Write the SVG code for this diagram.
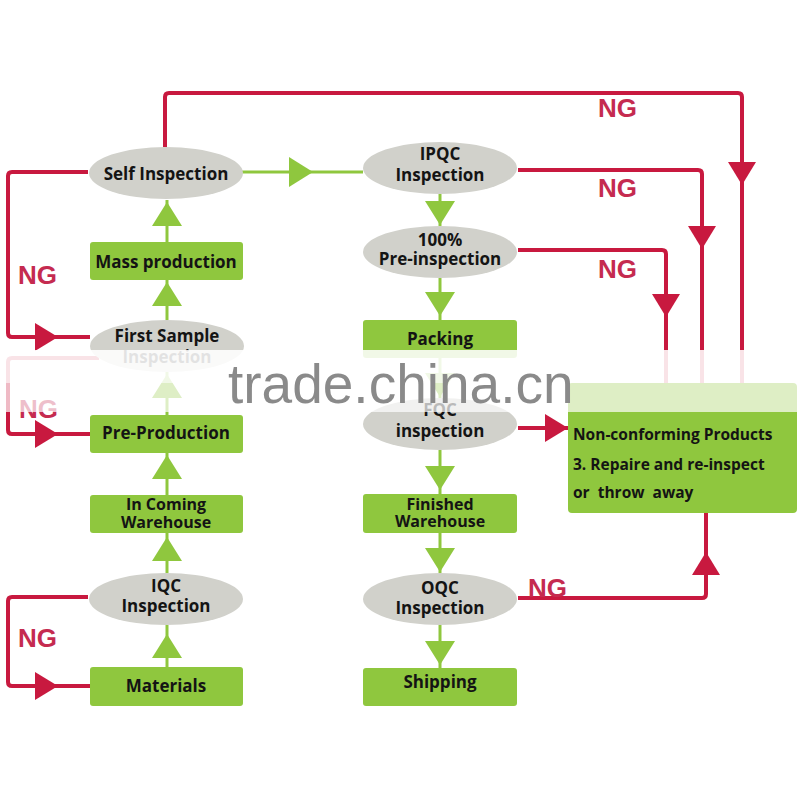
<svg xmlns="http://www.w3.org/2000/svg" xmlns:xlink="http://www.w3.org/1999/xlink" width="800" height="800" viewBox="0 0 800 800">
<style>
.box{fill:#8fc73e}
.ell{fill:#d1d1cb}
.lbl{font-family:"Open Sans","Liberation Sans",sans-serif;font-weight:700;font-size:17px;fill:#141414;text-anchor:middle}
.sm{font-size:16px}
.lft{font-family:"Open Sans","Liberation Sans",sans-serif;font-weight:700;font-size:15.5px;fill:#141414}
.red{stroke:#c8193f;stroke-width:4;fill:none;stroke-linejoin:round}
.grn{stroke:#8fc73e;stroke-width:3;fill:none}
.rf{fill:#c8193f}
.gf{fill:#8fc73e}
.ng{font-family:"Liberation Sans",Arial,sans-serif;font-weight:700;font-size:26px;fill:#c52b50}
.wm{font-family:"Liberation Sans",Arial,sans-serif;font-size:55px;fill:#8a8a8a}
</style>
<defs>
<path id="rh" d="M0,0 L-23,-14 L-23,14 Z"/>
<path id="gh" d="M0,0 L-24,-15 L-24,15 Z"/>
</defs>
<rect width="800" height="800" fill="#ffffff"/>
<g id="connectors">
<path class="grn" d="M167,242 V200"/>
<path class="grn" d="M242,172 H363"/>
<path class="grn" d="M167,320 V280"/>
<path class="grn" d="M167,415 V372"/>
<path class="grn" d="M167,495 V453"/>
<path class="grn" d="M167,573 V533"/>
<path class="grn" d="M167,667 V625"/>
<path class="grn" d="M440,194 V226"/>
<path class="grn" d="M440,278 V320"/>
<path class="grn" d="M440,358 V398"/>
<path class="grn" d="M440,450 V494"/>
<path class="grn" d="M440,533 V573"/>
<path class="grn" d="M440,625 V668"/>
<use xlink:href="#gh" class="gf" transform="translate(167,202) rotate(-90)"/>
<use xlink:href="#gh" class="gf" transform="translate(313,172)"/>
<use xlink:href="#gh" class="gf" transform="translate(167,282) rotate(-90)"/>
<use xlink:href="#gh" class="gf" transform="translate(167,374) rotate(-90)"/>
<use xlink:href="#gh" class="gf" transform="translate(167,455) rotate(-90)"/>
<use xlink:href="#gh" class="gf" transform="translate(167,537) rotate(-90)"/>
<use xlink:href="#gh" class="gf" transform="translate(167,634) rotate(-90)"/>
<use xlink:href="#gh" class="gf" transform="translate(440,225) rotate(90)"/>
<use xlink:href="#gh" class="gf" transform="translate(440,316) rotate(90)"/>
<use xlink:href="#gh" class="gf" transform="translate(440,397) rotate(90)"/>
<use xlink:href="#gh" class="gf" transform="translate(440,490) rotate(90)"/>
<use xlink:href="#gh" class="gf" transform="translate(440,572) rotate(90)"/>
<use xlink:href="#gh" class="gf" transform="translate(440,665) rotate(90)"/>
<path class="red" d="M165,147 V97 Q165,93 169,93 H738 Q742,93 742,97 V383"/>
<path class="red" d="M518,170 H698 Q702,170 702,174 V383"/>
<path class="red" d="M518,250 H662 Q666,250 666,254 V383"/>
<path class="red" d="M88,172 H12 Q8,172 8,176 V333 Q8,337 12,337 H90"/>
<path class="red" d="M99,358 H12 Q8,358 8,362 V430 Q8,434 12,434 H90"/>
<path class="red" d="M88,597 H12 Q8,597 8,601 V682 Q8,686 12,686 H90"/>
<path class="red" d="M518,428 H568"/>
<path class="red" d="M518,598 H702 Q706,598 706,594 V513"/>
<use xlink:href="#rh" class="rf" transform="translate(58,337)"/>
<use xlink:href="#rh" class="rf" transform="translate(58,434)"/>
<use xlink:href="#rh" class="rf" transform="translate(58,686)"/>
<use xlink:href="#rh" class="rf" transform="translate(742,185) rotate(90)"/>
<use xlink:href="#rh" class="rf" transform="translate(702,249) rotate(90)"/>
<use xlink:href="#rh" class="rf" transform="translate(666,317) rotate(90)"/>
<use xlink:href="#rh" class="rf" transform="translate(568,428)"/>
<use xlink:href="#rh" class="rf" transform="translate(706,552) rotate(-90)"/>
<text class="ng" x="18" y="284">NG</text>
<text class="ng" x="19" y="418">NG</text>
<text class="ng" x="18" y="647">NG</text>
<text class="ng" x="598" y="117">NG</text>
<text class="ng" x="598" y="197">NG</text>
<text class="ng" x="598" y="278">NG</text>
<text class="ng" x="528" y="597">NG</text>
</g>
<g id="self-inspection"><ellipse class="ell" cx="166" cy="173" rx="77" ry="26"/><text class="lbl" x="166" y="180">Self Inspection</text></g>
<g id="mass-production"><rect class="box" x="90" y="242" width="153" height="38" rx="3"/><text class="lbl" x="166" y="268">Mass production</text></g>
<g id="first-sample"><ellipse class="ell" cx="167" cy="346" rx="77" ry="26"/><text class="lbl" x="167" y="342">First Sample</text><text class="lbl" x="167" y="363">Inspection</text></g>
<g id="pre-production"><rect class="box" x="90" y="415" width="153" height="38" rx="3"/><text class="lbl" x="166" y="439">Pre-Production</text></g>
<g id="incoming-warehouse"><rect class="box" x="90" y="495" width="153" height="38" rx="3"/><text class="lbl sm" x="166" y="510">In Coming</text><text class="lbl sm" x="166" y="528">Warehouse</text></g>
<g id="iqc-inspection"><ellipse class="ell" cx="166" cy="599" rx="77" ry="26"/><text class="lbl" x="166" y="592">IQC</text><text class="lbl" x="166" y="612">Inspection</text></g>
<g id="materials"><rect class="box" x="90" y="667" width="153" height="39" rx="3"/><text class="lbl" x="166" y="692">Materials</text></g>
<g id="ipqc-inspection"><ellipse class="ell" cx="440" cy="168" rx="77" ry="26"/><text class="lbl" x="440" y="160">IPQC</text><text class="lbl" x="440" y="181">Inspection</text></g>
<g id="pre-inspection"><ellipse class="ell" cx="440" cy="252" rx="77" ry="26"/><text class="lbl" x="440" y="246">100%</text><text class="lbl" x="440" y="265">Pre-inspection</text></g>
<g id="packing"><rect class="box" x="363" y="320" width="154" height="38" rx="3"/><text class="lbl" x="440" y="345">Packing</text></g>
<g id="fqc-inspection"><ellipse class="ell" cx="440" cy="424" rx="77" ry="26"/><text class="lbl" x="440" y="416">FQC</text><text class="lbl" x="440" y="437">inspection</text></g>
<g id="finished-warehouse"><rect class="box" x="363" y="494" width="154" height="39" rx="3"/><text class="lbl sm" x="440" y="510">Finished</text><text class="lbl sm" x="440" y="527">Warehouse</text></g>
<g id="oqc-inspection"><ellipse class="ell" cx="440" cy="599" rx="77" ry="26"/><text class="lbl" x="440" y="594">OQC</text><text class="lbl" x="440" y="614">Inspection</text></g>
<g id="shipping"><rect class="box" x="363" y="668" width="154" height="38" rx="3"/><text class="lbl" x="440" y="688">Shipping</text></g>
<g id="non-conforming"><rect class="box" x="568" y="383" width="229" height="130" rx="4"/><text class="lft" x="573" y="440">Non-conforming Products</text><text class="lft" x="573" y="470">3. Repaire and re-inspect</text><text class="lft" x="573" y="498" xml:space="preserve">or  throw  away</text></g>
<g id="watermark">
<rect x="0" y="350" width="800" height="33" fill="#ffffff" opacity="0.88"/>
<rect x="0" y="383" width="800" height="29" fill="#ffffff" opacity="0.7"/>
<text class="wm" x="228" y="403">trade.china.cn</text>
</g>
</svg>
